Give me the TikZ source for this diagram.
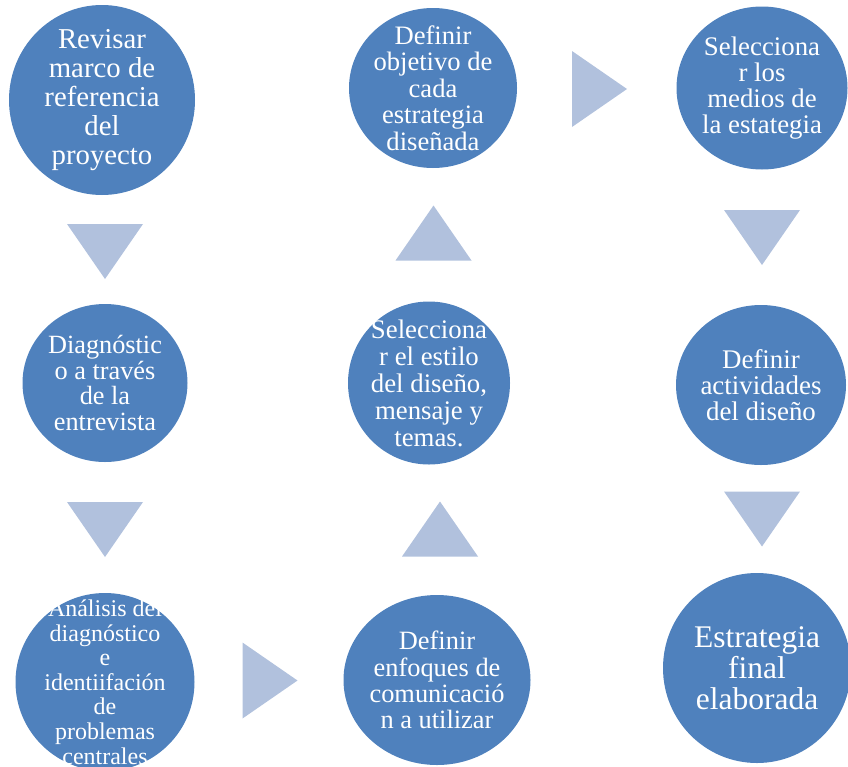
\documentclass[tikz,border=0pt]{standalone}
\usepackage{fontspec}
\setmainfont{Liberation Serif}
\usetikzlibrary{shapes.geometric}
\definecolor{stepblue}{RGB}{79,129,189}
\definecolor{chevblue}{RGB}{177,193,221}
\tikzset{
  disc/.style={ellipse, fill=stepblue, inner sep=0pt},
  txt/.style={text=white, align=center, inner sep=0pt},
  pics/chev/.style={code={\fill[chevblue] (-27.5,38) -- (27.5,0) -- (-27.5,-38) -- cycle;}}
}
\begin{document}
\begin{tikzpicture}[x=1pt,y=1pt]
\useasboundingbox (0,0) rectangle (848,-766);
\node[disc, minimum width=186, minimum height=190] (n1) at (102,-100) {};
\node[txt, font=\fontsize{28.8}{29}\selectfont] (t1) at (n1) {Revisar\\marco de\\referencia\\del\\proyecto};
\node[disc, minimum width=165, minimum height=158] (n2) at (105,-383) {};
\node[txt, font=\fontsize{26.3}{25.7}\selectfont] (t2) at (n2) {Diagnóstic\\o a través\\de la\\entrevista};
\node[disc, minimum width=179, minimum height=178] (n3) at (105,-682) {};
\node[txt, font=\fontsize{24}{24.6}\selectfont] (t3) at (n3) {Análisis del\\diagnóstico\\e\\identiifación\\de\\problemas\\centrales};
\node[disc, minimum width=187, minimum height=170] (n4) at (437,-680) {};
\node[txt, font=\fontsize{26.4}{26.3}\selectfont] (t4) at (n4) {Definir\\enfoques de\\comunicació\\n a utilizar};
\node[disc, minimum width=162, minimum height=163] (n5) at (429,-383) {};
\node[txt, font=\fontsize{26.8}{27}\selectfont] (t5) at (n5) {Selecciona\\r el estilo\\del diseño,\\mensaje y\\temas.};
\node[disc, minimum width=168, minimum height=160] (n6) at (433,-88) {};
\node[txt, font=\fontsize{26.6}{26.5}\selectfont] (t6) at (n6) {Definir\\objetivo de\\cada\\estrategia\\diseñada};
\node[disc, minimum width=171, minimum height=163] (n7) at (762,-88) {};
\node[txt, font=\fontsize{26.8}{26}\selectfont] (t7) at (n7) {Selecciona\\r los\\medios de\\la estategia};
\node[disc, minimum width=170, minimum height=160] (n8) at (761,-385) {};
\node[txt, font=\fontsize{26.9}{26}\selectfont] (t8) at (n8) {Definir\\actividades\\del diseño};
\node[disc, minimum width=188, minimum height=190] (n9) at (757,-668) {};
\node[txt, font=\fontsize{31.5}{31}\selectfont] (t9) at (n9) {Estrategia\\final\\elaborada};
\pic[rotate=-90] at (105,-251.5) {chev};
\pic[rotate=-90] at (105,-529.5) {chev};
\pic at (270,-680.5) {chev};
\pic[rotate=90] at (440,-529) {chev};
\pic[rotate=90] at (433.5,-233) {chev};
\pic at (599.5,-89) {chev};
\pic[rotate=-90] at (762,-237.5) {chev};
\pic[rotate=-90] at (762,-519) {chev};
\end{tikzpicture}
\end{document}
